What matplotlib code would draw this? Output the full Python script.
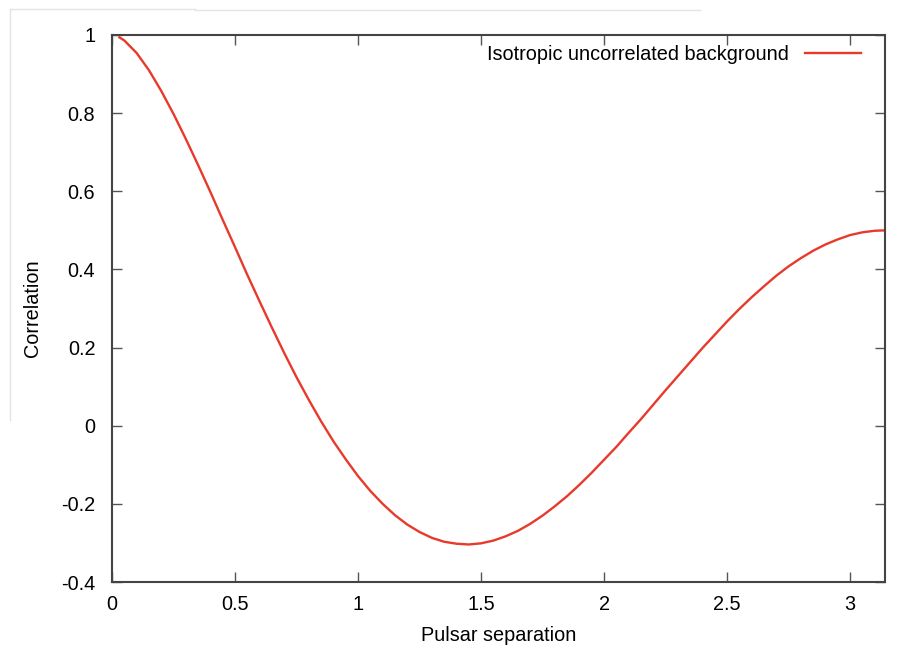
import numpy as np
import matplotlib.pyplot as plt
from matplotlib.lines import Line2D

# values (pulsar separation in rad, correlation)
separation = [0.03, 0.05, 0.1, 0.15, 0.2, 0.25, 0.3, 0.35, 0.4, 0.45, 0.5, 0.55, 0.6, 0.65,
              0.7, 0.75, 0.8, 0.85, 0.9, 0.95, 1.0, 1.05, 1.1, 1.15, 1.2, 1.25, 1.3,
              1.35, 1.4, 1.45, 1.5, 1.55, 1.6, 1.65, 1.7, 1.75, 1.8, 1.85, 1.9, 1.95,
              2.0, 2.05, 2.1, 2.15, 2.2, 2.25, 2.3, 2.35, 2.4, 2.45, 2.5, 2.55, 2.6,
              2.65, 2.7, 2.75, 2.8, 2.85, 2.9, 2.95, 3.0, 3.05, 3.1, 3.1416]
correlation = [0.994, 0.986, 0.954, 0.910, 0.857, 0.798, 0.734, 0.667, 0.598, 0.527, 0.457, 0.386, 0.318, 0.251,
               0.186, 0.124, 0.066, 0.011, -0.040, -0.086, -0.129, -0.167, -0.200, -0.229, -0.253, -0.272, -0.287,
               -0.297, -0.302, -0.304, -0.301, -0.294, -0.283, -0.269, -0.251, -0.230, -0.206, -0.180, -0.151, -0.120,
               -0.087, -0.054, -0.018, 0.017, 0.054, 0.091, 0.127, 0.163, 0.199, 0.233, 0.267, 0.299, 0.329,
               0.357, 0.384, 0.408, 0.429, 0.448, 0.464, 0.477, 0.488, 0.495, 0.499, 0.500]

xticks = [0, 0.5, 1, 1.5, 2, 2.5, 3]
yticks = [-0.4, -0.2, 0, 0.2, 0.4, 0.6, 0.8, 1]

plt.rcParams['font.family'] = ['Liberation Sans', 'DejaVu Sans']
plt.rcParams['font.size'] = 14.3

fig = plt.figure(figsize=(9.08, 6.52), dpi=100)
ax = fig.add_axes([112/908, 1-582/652, (885-112)/908, (582-35)/652])

ax.plot(separation, correlation, color='#e8392b', lw=1.7,
        label='Isotropic uncorrelated background')

ax.set_xlim(0, np.pi)
ax.set_ylim(-0.4, 1)
ax.set_xticks(xticks)
ax.set_xticklabels(['0', '0.5', '1', '1.5', '2', '2.5', '3'])
ax.set_yticks(yticks)
ax.set_yticklabels(['-0.4', '-0.2', '0', '0.2', '0.4', '0.6', '0.8', '1'])
ax.tick_params(direction='in', length=7, width=1, color='#555555',
               top=True, right=True)
ax.tick_params(axis='y', pad=12)
ax.tick_params(axis='x', pad=9)
for s in ax.spines.values():
    s.set_linewidth(1.5)
    s.set_color('#444444')

ax.set_xlabel('Pulsar separation', labelpad=9)
ax.set_ylabel('Correlation', labelpad=14)

ax.legend(loc='upper right', frameon=False, markerfirst=False,
          handlelength=2.85, borderaxespad=0.2, handletextpad=0.8,
          bbox_to_anchor=(0.985, 1.004))

# faint screenshot edges
fig.add_artist(Line2D([10/908, 195/908], [1-9/652, 1-9/652], color='#e4e4e4', lw=1))
fig.add_artist(Line2D([195/908, 700/908], [1-10/652, 1-10/652], color='#e4e4e4', lw=1))
fig.add_artist(Line2D([10/908, 10/908], [1-9/652, 1-420/652], color='#e4e4e4', lw=1))

fig.savefig('out.png')
